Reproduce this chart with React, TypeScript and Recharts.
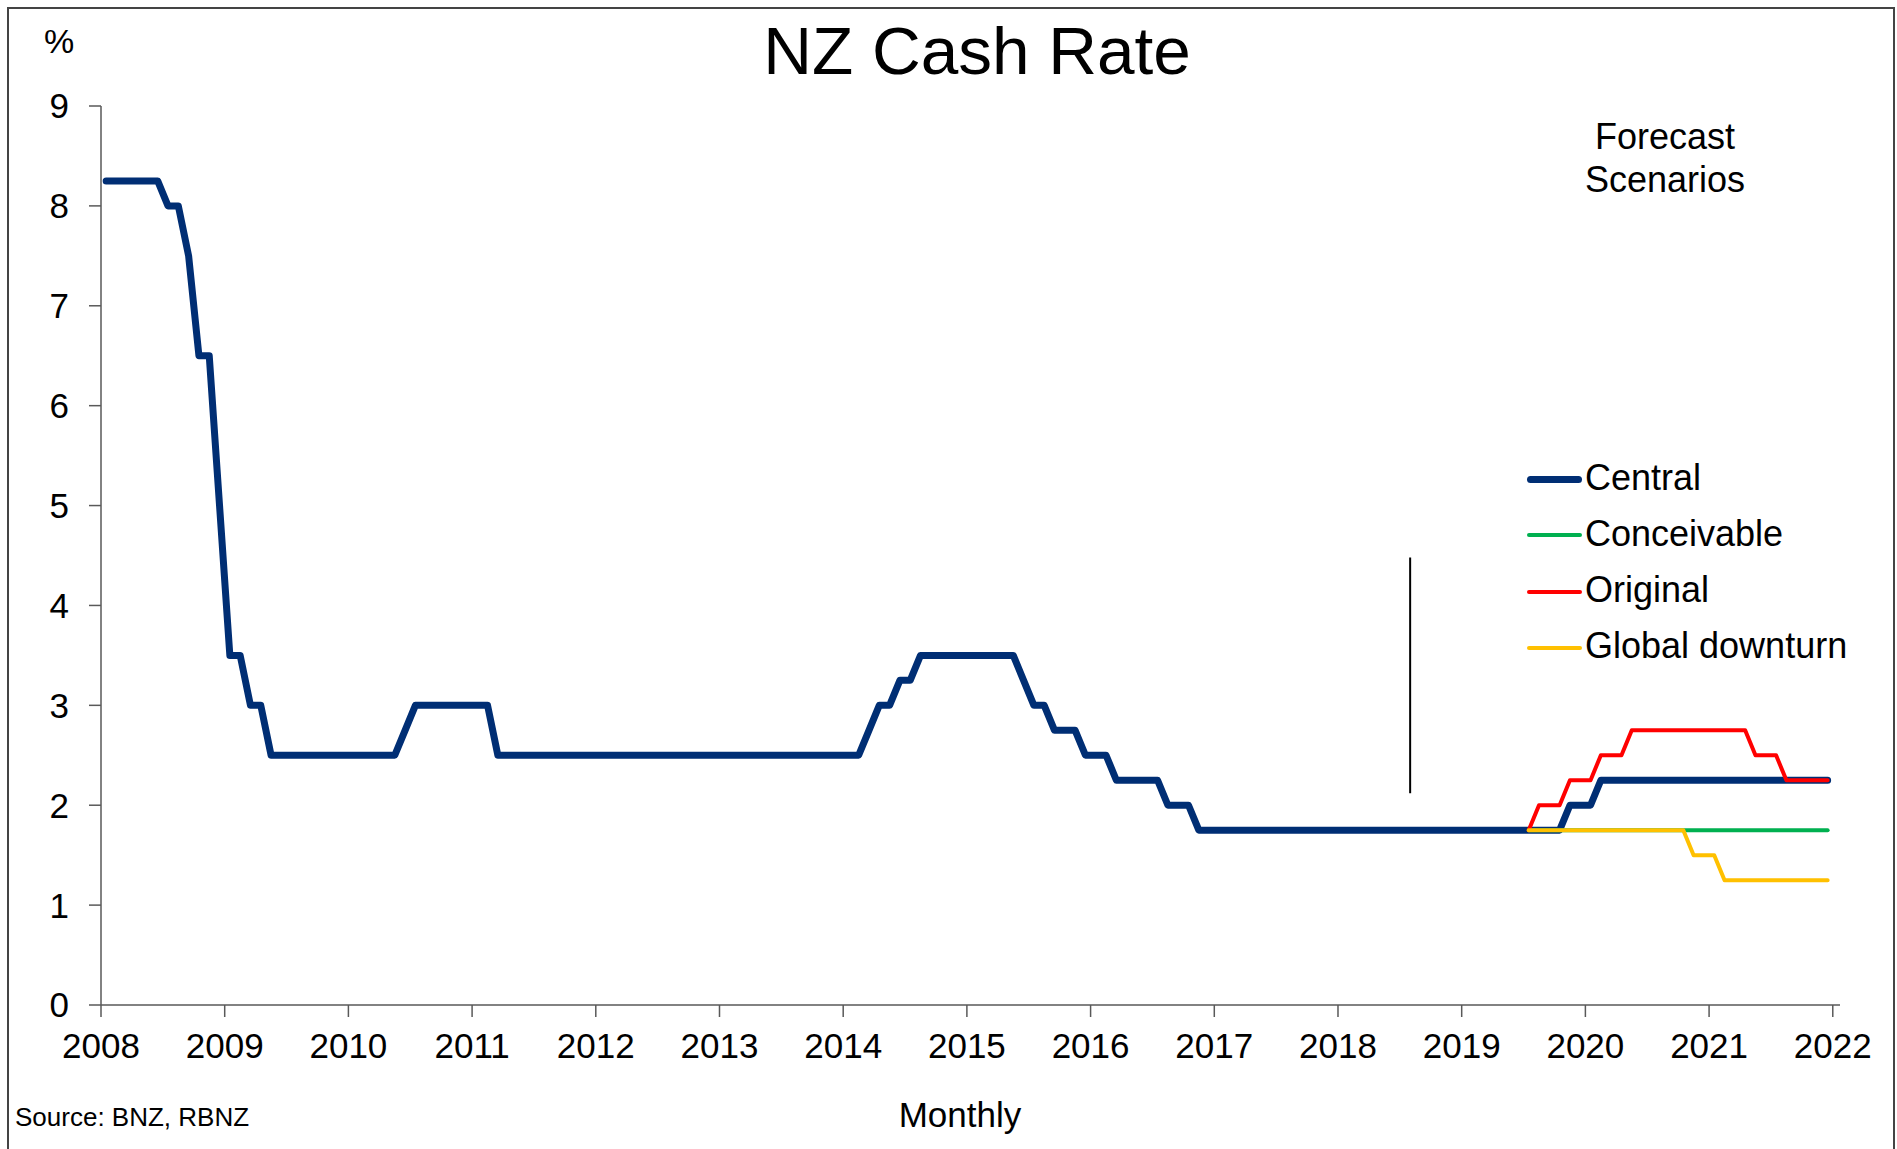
import React from 'react';
import { LineChart, Line, XAxis, YAxis, ReferenceLine } from 'recharts';

// monthly, Jan 2008 .. Dec 2021 (history + central forecast)
const CENTRAL = [
  8.25, 8.25, 8.25, 8.25, 8.25, 8.25, 8, 8, 7.5, 6.5, 6.5, 5, // 2008
  3.5, 3.5, 3, 3, 2.5, 2.5, 2.5, 2.5, 2.5, 2.5, 2.5, 2.5, // 2009
  2.5, 2.5, 2.5, 2.5, 2.5, 2.75, 3, 3, 3, 3, 3, 3, // 2010
  3, 3, 2.5, 2.5, 2.5, 2.5, 2.5, 2.5, 2.5, 2.5, 2.5, 2.5, // 2011
  2.5, 2.5, 2.5, 2.5, 2.5, 2.5, 2.5, 2.5, 2.5, 2.5, 2.5, 2.5, // 2012
  2.5, 2.5, 2.5, 2.5, 2.5, 2.5, 2.5, 2.5, 2.5, 2.5, 2.5, 2.5, // 2013
  2.5, 2.5, 2.75, 3, 3, 3.25, 3.25, 3.5, 3.5, 3.5, 3.5, 3.5, // 2014
  3.5, 3.5, 3.5, 3.5, 3.5, 3.25, 3, 3, 2.75, 2.75, 2.75, 2.5, // 2015
  2.5, 2.5, 2.25, 2.25, 2.25, 2.25, 2.25, 2, 2, 2, 1.75, 1.75, // 2016
  1.75, 1.75, 1.75, 1.75, 1.75, 1.75, 1.75, 1.75, 1.75, 1.75, 1.75, 1.75, // 2017
  1.75, 1.75, 1.75, 1.75, 1.75, 1.75, 1.75, 1.75, 1.75, 1.75, 1.75, 1.75, // 2018
  1.75, 1.75, 1.75, 1.75, 1.75, 1.75, 1.75, 1.75, 1.75, 1.75, 2, 2, // 2019
  2, 2.25, 2.25, 2.25, 2.25, 2.25, 2.25, 2.25, 2.25, 2.25, 2.25, 2.25, // 2020
  2.25, 2.25, 2.25, 2.25, 2.25, 2.25, 2.25, 2.25, 2.25, 2.25, 2.25, 2.25, // 2021
];

// scenarios start Jul 2019 (month 138)
const FORECAST_START = 138;
const CONCEIVABLE = [
  1.75, 1.75, 1.75, 1.75, 1.75, 1.75,
  1.75, 1.75, 1.75, 1.75, 1.75, 1.75, 1.75, 1.75, 1.75, 1.75, 1.75, 1.75,
  1.75, 1.75, 1.75, 1.75, 1.75, 1.75, 1.75, 1.75, 1.75, 1.75, 1.75, 1.75,
];
const ORIGINAL = [
  1.75, 2, 2, 2, 2.25, 2.25,
  2.25, 2.5, 2.5, 2.5, 2.75, 2.75, 2.75, 2.75, 2.75, 2.75, 2.75, 2.75,
  2.75, 2.75, 2.75, 2.75, 2.5, 2.5, 2.5, 2.25, 2.25, 2.25, 2.25, 2.25,
];
const DOWNTURN = [
  1.75, 1.75, 1.75, 1.75, 1.75, 1.75,
  1.75, 1.75, 1.75, 1.75, 1.75, 1.75, 1.75, 1.75, 1.75, 1.75, 1.5, 1.5,
  1.5, 1.25, 1.25, 1.25, 1.25, 1.25, 1.25, 1.25, 1.25, 1.25, 1.25, 1.25,
];

const YEAR_LABELS = ['2008', '2009', '2010', '2011', '2012', '2013', '2014', '2015', '2016', '2017', '2018', '2019', '2020', '2021', '2022'];
const Y_TICKS = [0, 1, 2, 3, 4, 5, 6, 7, 8, 9];

// thin vertical marker (month index, % range)
const MARKER = { t: 127, from: 2.12, to: 4.48 };

const SERIES = [
  { key: 'central', name: 'Central', color: '#002E74', width: 7 },
  { key: 'conceivable', name: 'Conceivable', color: '#00B050', width: 4 },
  { key: 'original', name: 'Original', color: '#FF0000', width: 4 },
  { key: 'downturn', name: 'Global downturn', color: '#FFC000', width: 4 },
];

const fc = (arr: number[], i: number) =>
  i >= FORECAST_START ? arr[i - FORECAST_START] : null;

const data = CENTRAL.map((v, i) => ({
  t: i + 0.5,
  central: v,
  conceivable: fc(CONCEIVABLE, i),
  original: fc(ORIGINAL, i),
  downturn: fc(DOWNTURN, i),
}));

const FONT = '"Liberation Sans", Arial, sans-serif';
const AXIS = '#595959';

const text = (size: number): React.CSSProperties => ({
  position: 'absolute',
  fontFamily: FONT,
  fontSize: size,
  lineHeight: 1,
  color: '#000',
  whiteSpace: 'nowrap',
});

export default function App() {
  return (
    <div style={{ position: 'absolute', left: 0, top: 0, width: 1897, height: 1149, background: '#fff', overflow: 'hidden' }}>
      <div
        style={{
          position: 'absolute',
          left: 7,
          top: 7,
          width: 1884,
          height: 1150,
          border: '2px solid #444',
          borderBottom: 'none',
        }}
      />
      <LineChart
        width={1897}
        height={1149}
        data={data}
        margin={{ top: 106, right: 57, left: 41, bottom: 84 }}
        style={{ position: 'absolute', left: 0, top: 0 }}
      >
        <XAxis
          dataKey="t"
          type="number"
          domain={[0, 168.7]}
          ticks={YEAR_LABELS.map((_, i) => i * 12)}
          tickFormatter={(v: number) => YEAR_LABELS[Math.round(v / 12)]}
          interval={0}
          height={60}
          tickSize={12}
          tickMargin={16}
          stroke={AXIS}
          strokeWidth={1.5}
          tick={{ fill: '#000', fontSize: 35, fontFamily: FONT }}
        />
        <YAxis
          type="number"
          domain={[0, 9]}
          ticks={Y_TICKS}
          interval={0}
          width={60}
          tickSize={12}
          tickMargin={20}
          stroke={AXIS}
          strokeWidth={1.5}
          tick={{ fill: '#000', fontSize: 35, fontFamily: FONT }}
        />
        <ReferenceLine
          segment={[
            { x: MARKER.t, y: MARKER.from },
            { x: MARKER.t, y: MARKER.to },
          ]}
          stroke="#000"
          strokeWidth={2}
        />
        {SERIES.map((s) => (
          <Line
            key={s.key}
            dataKey={s.key}
            name={s.name}
            type="linear"
            stroke={s.color}
            strokeWidth={s.width}
            strokeLinejoin="round"
            strokeLinecap="round"
            dot={false}
            activeDot={false}
            isAnimationActive={false}
          />
        ))}
      </LineChart>

      <div style={{ ...text(67.5), left: 977, top: 17, transform: 'translateX(-50%)' }}>NZ Cash Rate</div>
      <div style={{ ...text(34), left: 44, top: 24 }}>%</div>
      <div style={{ ...text(36), left: 1665, top: 115, transform: 'translateX(-50%)', textAlign: 'center', lineHeight: '43px' }}>
        Forecast
        <br />
        Scenarios
      </div>
      <div style={{ ...text(35), left: 960, top: 1097, transform: 'translateX(-50%)' }}>Monthly</div>
      <div style={{ ...text(26), left: 15, top: 1104 }}>Source: BNZ, RBNZ</div>

      {SERIES.map((s, i) => (
        <div key={s.key} style={{ position: 'absolute', left: 1525, top: 451 + i * 56.3, height: 56, width: 340 }}>
          <div
            style={{
              position: 'absolute',
              left: 2,
              top: 28 - s.width / 2,
              width: 55,
              height: s.width,
              borderRadius: s.width / 2,
              background: s.color,
            }}
          />
          <div style={{ ...text(36), left: 60, top: 8.5 }}>{s.name}</div>
        </div>
      ))}
    </div>
  );
}
